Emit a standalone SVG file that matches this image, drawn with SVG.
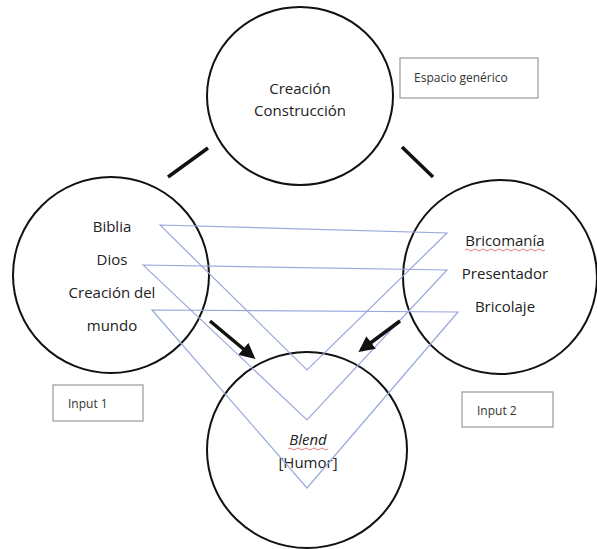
<svg xmlns="http://www.w3.org/2000/svg" width="597" height="549" viewBox="0 0 597 549">
<style>
.c{fill:none;stroke:#111;stroke-width:2}
.t{font-family:"Open Sans","Liberation Sans",sans-serif;font-size:15px;fill:#222;text-anchor:middle}
.b{fill:#fff;stroke:#999;stroke-width:1.2}
.bt{font-family:"Open Sans","Liberation Sans",sans-serif;font-size:12px;fill:#333}
.bl{fill:none;stroke:#9aa8dc;stroke-width:1.2}
.k{stroke:#111;stroke-width:3.5;fill:none;stroke-linecap:butt}
.sq{fill:none;stroke:#e05a5a;stroke-width:0.8}
</style>
<defs>
<marker id="ah" viewBox="0 0 10 10" refX="8" refY="5" markerWidth="4.5" markerHeight="4.5" orient="auto" markerUnits="strokeWidth">
<path d="M0,0 L10,5 L0,10 z" fill="#111"/>
</marker>
</defs>
<rect width="597" height="549" fill="#fff"/>
<g id="generic">
<ellipse class="c" cx="300" cy="96" rx="93" ry="89"/>
<text class="t" x="300" y="94">Creación</text>
<text class="t" x="300" y="116">Construcción</text>
</g>
<g id="generic-label">
<rect class="b" x="400" y="58" width="138" height="40"/>
<text class="bt" x="414" y="82">Espacio genérico</text>
</g>
<g id="input1">
<circle class="c" cx="111" cy="275" r="98"/>
<text class="t" x="112" y="232">Biblia</text>
<text class="t" x="112" y="265">Dios</text>
<text class="t" x="112" y="298">Creación del</text>
<text class="t" x="112" y="331">mundo</text>
</g>
<g id="input1-label">
<rect class="b" x="53" y="385" width="90" height="36"/>
<text class="bt" x="68" y="408">Input 1</text>
</g>
<g id="input2">
<circle class="c" cx="500" cy="277" r="97"/>
<text class="t" x="505" y="246">Bricomanía</text>
<path class="sq" d="M465,250 q2,-2 4,0 t4,0 t4,0 t4,0 t4,0 t4,0 t4,0 t4,0 t4,0 t4,0 t4,0 t4,0 t4,0 t4,0 t4,0 t4,0 t4,0 t4,0 t4,0 t4,0"/>
<text class="t" x="505" y="279">Presentador</text>
<text class="t" x="505" y="312">Bricolaje</text>
</g>
<g id="input2-label">
<rect class="b" x="462" y="392" width="91" height="35"/>
<text class="bt" x="477" y="415">Input 2</text>
</g>
<g id="blend">
<ellipse class="c" cx="307" cy="450" rx="100" ry="98"/>
<text class="t" x="308" y="445" font-style="italic">Blend</text>
<path class="sq" d="M288,449 q2,-2 4,0 t4,0 t4,0 t4,0 t4,0 t4,0 t4,0 t4,0 t4,0 t4,0"/>
<text class="t" x="308" y="468">[Humor]</text>
</g>
<g id="connectors">
<polygon class="bl" points="160,225 447,233 307,370"/>
<polygon class="bl" points="143,265 447,270 307,420"/>
<polygon class="bl" points="152,310 458,312 307,488"/>
<line class="k" x1="168" y1="177" x2="208" y2="148"/>
<line class="k" x1="402" y1="147" x2="433" y2="177"/>
<line class="k" x1="210" y1="321" x2="253" y2="357" marker-end="url(#ah)"/>
<line class="k" x1="400" y1="321" x2="361" y2="350" marker-end="url(#ah)"/>
</g>
</svg>
